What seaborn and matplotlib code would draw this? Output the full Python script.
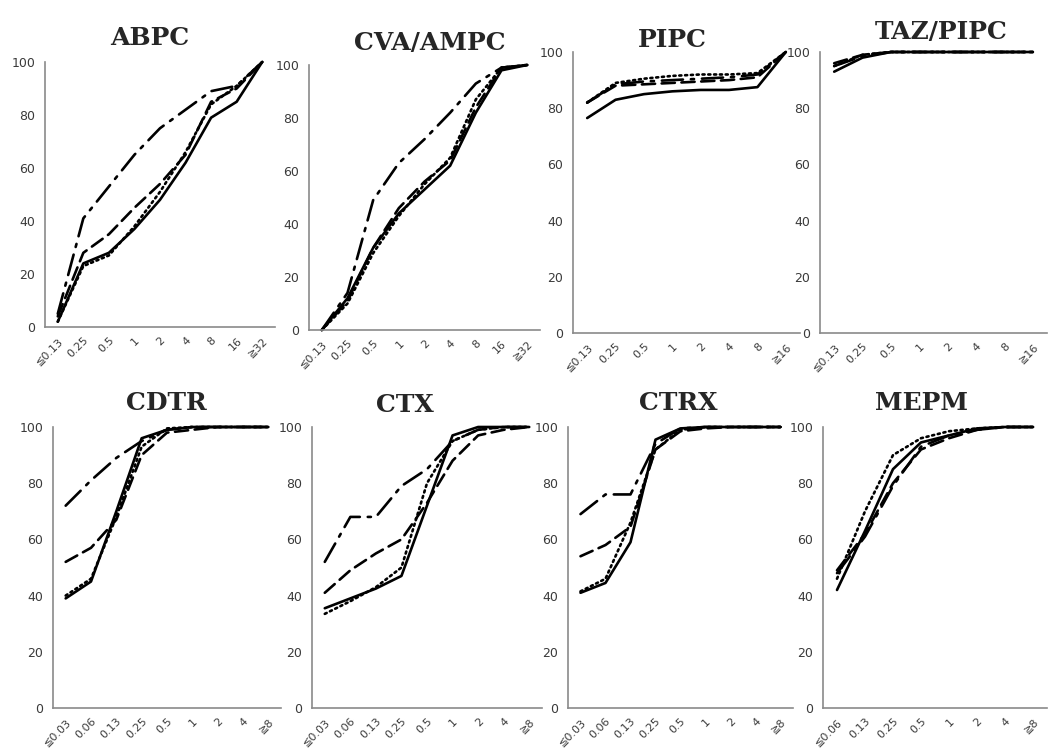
import numpy as np
import matplotlib
matplotlib.use("Agg")
import matplotlib.pyplot as plt
import seaborn as sns

sns.set_style("white")
plt.rcParams['font.family'] = ['DejaVu Sans', 'Noto Sans CJK JP']

# x categories (MIC, ug/mL)
x_abpc = ["≦0.13", "0.25", "0.5", "1", "2", "4", "8", "16", "≧32"]
x_pipc = ["≦0.13", "0.25", "0.5", "1", "2", "4", "8", "≧16"]
x_ceph = ["≦0.03", "0.06", "0.13", "0.25", "0.5", "1", "2", "4", "≧8"]
x_mepm = ["≦0.06", "0.13", "0.25", "0.5", "1", "2", "4", "≧8"]

# cumulative % per series: solid, dotted, dashed, dash-dot
abpc_solid = [2, 24, 28, 37, 48, 62, 79, 85, 100]
abpc_dotted = [2, 23, 27, 38, 51, 66, 84, 91, 100]
abpc_dashed = [4, 28, 35, 45, 54, 65, 85, 90, 100]
abpc_dashdot = [5, 41, 53, 65, 75, 82, 89, 91, 100]

cva_solid = [0, 12, 31, 44, 53, 62, 82, 98, 100]
cva_dotted = [0, 10, 29, 43, 55, 65, 87, 99, 100]
cva_dashed = [0, 11, 31, 46, 56, 64, 84, 99, 100]
cva_dashdot = [0, 14, 49, 63, 72, 82, 93, 99, 100]

pipc_solid = [76.5, 83, 85, 86, 86.5, 86.5, 87.5, 100]
pipc_dotted = [82, 89, 90.5, 91.5, 92, 92, 92.5, 100]
pipc_dashed = [82, 88, 88.5, 89, 89.5, 90, 91, 100]
pipc_dashdot = [82, 88.5, 89.5, 90, 90.5, 91, 92, 100]

taz_solid = [93, 98, 100, 100, 100, 100, 100, 100]
taz_dotted = [95, 99, 100, 100, 100, 100, 100, 100]
taz_dashed = [96, 99, 100, 100, 100, 100, 100, 100]
taz_dashdot = [95, 98.5, 100, 100, 100, 100, 100, 100]

cdtr_solid = [39, 45, 70, 96, 99, 100, 100, 100, 100]
cdtr_dotted = [40, 46, 68, 93, 99.5, 100, 100, 100, 100]
cdtr_dashed = [52, 57, 67, 90, 98, 99, 100, 100, 100]
cdtr_dashdot = [72, 81, 89, 95, 99, 100, 100, 100, 100]

ctx_solid = [35.5, 39, 42.5, 47, 72, 97, 100, 100, 100]
ctx_dotted = [33.5, 38, 43, 50, 80, 95, 99, 100, 100]
ctx_dashed = [41, 49, 55, 60, 73, 88, 97, 99, 100]
ctx_dashdot = [52, 68, 68, 79, 85, 95, 99, 100, 100]

ctrx_solid = [41, 44.5, 59, 95.5, 99.5, 100, 100, 100, 100]
ctrx_dotted = [41.5, 46, 66, 92, 99, 100, 100, 100, 100]
ctrx_dashed = [54, 58, 64.5, 92, 98.5, 99.5, 100, 100, 100]
ctrx_dashdot = [69, 76, 76, 94, 99.5, 100, 100, 100, 100]

mepm_solid = [42, 63, 85, 94.5, 97, 99.5, 100, 100]
mepm_dotted = [46, 70, 90, 96, 98.5, 99.5, 100, 100]
mepm_dashed = [49, 62, 80, 92, 96, 99, 100, 100]
mepm_dashdot = [48, 61, 79, 93, 97, 99, 100, 100]

panels = [
    ("ABPC", x_abpc, [abpc_solid, abpc_dotted, abpc_dashed, abpc_dashdot]),
    ("CVA/AMPC", x_abpc, [cva_solid, cva_dotted, cva_dashed, cva_dashdot]),
    ("PIPC", x_pipc, [pipc_solid, pipc_dotted, pipc_dashed, pipc_dashdot]),
    ("TAZ/PIPC", x_pipc, [taz_solid, taz_dotted, taz_dashed, taz_dashdot]),
    ("CDTR", x_ceph, [cdtr_solid, cdtr_dotted, cdtr_dashed, cdtr_dashdot]),
    ("CTX", x_ceph, [ctx_solid, ctx_dotted, ctx_dashed, ctx_dashdot]),
    ("CTRX", x_ceph, [ctrx_solid, ctrx_dotted, ctrx_dashed, ctrx_dashdot]),
    ("MEPM", x_mepm, [mepm_solid, mepm_dotted, mepm_dashed, mepm_dashdot]),
]

# pixel boxes: left, right, top(100), bottom(0); title centre
W, H = 1054, 756
boxes = [(45, 275, 62, 327), (309, 540, 65, 330), (573, 800, 52, 333), (820, 1047, 52, 333),
         (53, 281, 427, 708), (312, 542, 427, 708), (568, 793, 427, 708), (823, 1047, 427, 708)]
title_pos = [(150, 38), (430, 43), (672, 40), (941, 32),
             (166, 403), (405, 405), (678, 403), (922, 403)]

styles = ["-", (0, (0.8, 1.4)), (0, (5, 2.5)), (0, (8, 3, 1.2, 3))]
axis_col = "#8a8a8a"

fig = plt.figure(figsize=(W / 100, H / 100), dpi=100)

for (name, cats, series), (l, r, t, b), (tx, ty) in zip(panels, boxes, title_pos):
    ax = fig.add_axes([l / W, 1 - b / H, (r - l) / W, (b - t) / H])
    pos = np.arange(len(cats))
    for vals, ls in zip(series, styles):
        sns.lineplot(x=pos, y=vals, ax=ax, color="black", lw=1.9,
                     linestyle=ls, solid_capstyle="round",
                     dash_capstyle="round", clip_on=False)
    ax.set_xlim(-0.5, len(cats) - 0.5)
    ax.set_ylim(0, 100)
    ax.set_yticks([0, 20, 40, 60, 80, 100])
    ax.set_xticks(pos)
    ax.set_xticklabels(cats, rotation=45, ha="right", rotation_mode="anchor",
                       fontsize=8, color="#3a3a3a")
    ax.set_xticks(np.arange(len(cats) + 1) - 0.5, minor=True)
    ax.tick_params(axis="x", which="major", length=0, pad=6)
    ax.tick_params(axis="x", which="minor", length=4, width=1, color=axis_col,
                   direction="out")
    ax.tick_params(axis="y", length=4, width=1, color=axis_col, direction="out",
                   labelsize=9, labelcolor="#3a3a3a", pad=3)
    for s in ["top", "right"]:
        ax.spines[s].set_visible(False)
    for s in ["left", "bottom"]:
        ax.spines[s].set_color(axis_col)
        ax.spines[s].set_linewidth(1.2)
    ax.set_xlabel("")
    ax.set_ylabel("")
    ax.grid(False)
    fig.text(tx / W, 1 - ty / H, name, ha="center", va="center",
             family="DejaVu Serif", fontweight="bold", fontsize=18)

fig.savefig("out.png", dpi=100, facecolor="white")
